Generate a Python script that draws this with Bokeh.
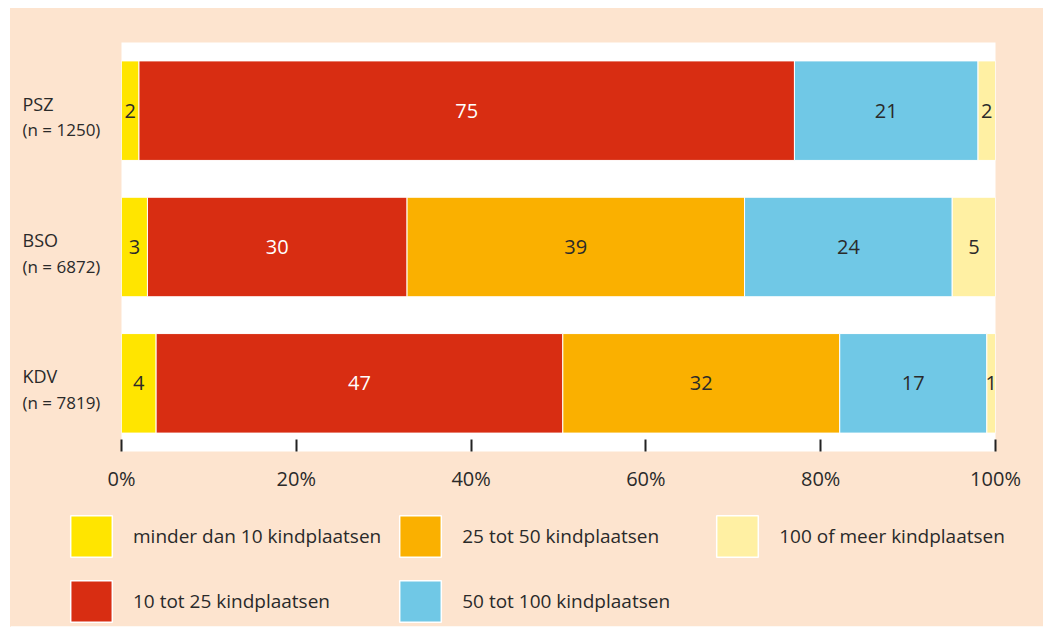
from bokeh.plotting import figure
from bokeh.models import (FactorRange, Range1d, FixedTicker, PrintfTickFormatter,
                          Legend, LegendItem, ColumnDataSource)
from bokeh.layouts import row, column
from bokeh.core.properties import value
from bokeh.embed import file_html
from bokeh.resources import INLINE

# ---- data ----
categories = ["PSZ", "BSO", "KDV"]
n_labels = ["(n = 1250)", " (n = 6872)", "(n = 7819)"]
series = ["minder dan 10 kindplaatsen", "10 tot 25 kindplaatsen",
          "25 tot 50 kindplaatsen", "50 tot 100 kindplaatsen",
          "100 of meer kindplaatsen"]
minder_10 = [2, 3, 4]
t10_25 = [75, 30, 47]
t25_50 = [0, 39, 32]
t50_100 = [21, 24, 17]
meer_100 = [2, 5, 1]
x_ticks = [0, 20, 40, 60, 80, 100]

# ---- styles ----
colors = ["#FFE500", "#D82D12", "#FAB000", "#70C8E6", "#FFF0A3"]
label_colors = ["#2a2a2a", "#ffffff", "#2a2a2a", "#2a2a2a", "#2a2a2a"]
FONT = "Open Sans"
TXT = "#2a2a2a"
PEACH = "#FDE4CF"

values = [minder_10, t10_25, t25_50, t50_100, meer_100]
totals = [sum(v[i] for v in values) for i in range(len(categories))]

y_range = FactorRange(factors=categories[::-1])

# ---- main chart ----
p = figure(width=938, height=492, y_range=y_range, x_range=Range1d(0, 100),
           output_backend="svg", toolbar_location=None,
           min_border_left=16, min_border_right=48,
           min_border_top=34, min_border_bottom=49)
p.background_fill_color = "white"
p.border_fill_color = PEACH
p.outline_line_color = None
p.grid.visible = False

cum = [0.0] * len(categories)
for s, vals in enumerate(values):
    pct = [vals[i] / totals[i] * 100 for i in range(len(categories))]
    left = cum[:]
    right = [left[i] + pct[i] for i in range(len(categories))]
    src = ColumnDataSource(dict(y=categories, left=left, right=right))
    p.hbar(y="y", left="left", right="right", height=0.73, source=src,
           fill_color=colors[s], line_color="white", line_width=1)
    lx, ly, lt = [], [], []
    for i in range(len(categories)):
        if vals[i] > 0:
            lx.append((left[i] + right[i]) / 2)
            ly.append(categories[i])
            lt.append(str(vals[i]))
    p.text(x=lx, y=ly, text=lt, text_align="center", text_baseline="middle",
           text_font=value(FONT), text_font_size="20px",
           text_color=label_colors[s])
    cum = right

p.yaxis.visible = False
p.xaxis.ticker = FixedTicker(ticks=x_ticks)
p.xaxis.formatter = PrintfTickFormatter(format="%d%%")
p.xaxis.axis_line_color = None
p.xaxis.major_tick_in = 12
p.xaxis.major_tick_out = 0
p.xaxis.major_tick_line_width = 2
p.xaxis.major_tick_line_color = "#222222"
p.xaxis.minor_tick_line_color = None
p.xaxis.major_label_standoff = 13
p.xaxis.major_label_text_font = FONT
p.xaxis.major_label_text_font_size = "20px"
p.xaxis.major_label_text_color = TXT

# ---- category labels (share the y range) ----
lab = figure(width=95, height=492, y_range=y_range, x_range=Range1d(0, 95),
             output_backend="svg", toolbar_location=None,
             x_axis_type=None, y_axis_type=None,
             min_border_left=0, min_border_right=0,
             min_border_top=34, min_border_bottom=49)
lab.background_fill_color = PEACH
lab.border_fill_color = PEACH
lab.outline_line_color = None
lab.grid.visible = False
lab.text(x=[12] * len(categories), y=categories, text=categories,
         text_align="left", text_baseline="middle", y_offset=-7,
         text_font=value(FONT), text_font_size="18px", text_color=TXT)
lab.text(x=[12] * len(categories), y=categories, text=n_labels,
         text_align="left", text_baseline="middle", y_offset=19,
         text_font=value(FONT), text_font_size="17px", text_color=TXT)

# ---- legend panel ----
lg = figure(width=1033, height=127, x_range=Range1d(0, 1), y_range=Range1d(0, 1),
            output_backend="svg", toolbar_location=None,
            x_axis_type=None, y_axis_type=None,
            min_border_left=0, min_border_right=0,
            min_border_top=0, min_border_bottom=0)
lg.background_fill_color = PEACH
lg.border_fill_color = PEACH
lg.outline_line_color = None
lg.grid.visible = False
items = []
for s in range(len(series)):
    r = lg.hbar(y=[-5], left=[0], right=[1], height=0.5,
                fill_color=colors[s], line_color="white", line_width=1.5)
    items.append(LegendItem(label=series[s], renderers=[r]))
legend = Legend(items=items, location=(55, 0), orientation="vertical", nrows=2,
                glyph_width=52, glyph_height=52, label_standoff=16, spacing=13,
                label_width=236,
                padding=0, margin=0, border_line_color=None,
                background_fill_alpha=0,
                label_text_font=FONT, label_text_font_size="19px",
                label_text_color=TXT)
lg.add_layout(legend)

layout = column(row(lab, p), lg)
layout.margin = (8, 0, 0, 10)
layout.styles = {"background-color": PEACH}

open("out.html", "w").write(file_html(layout, INLINE))
